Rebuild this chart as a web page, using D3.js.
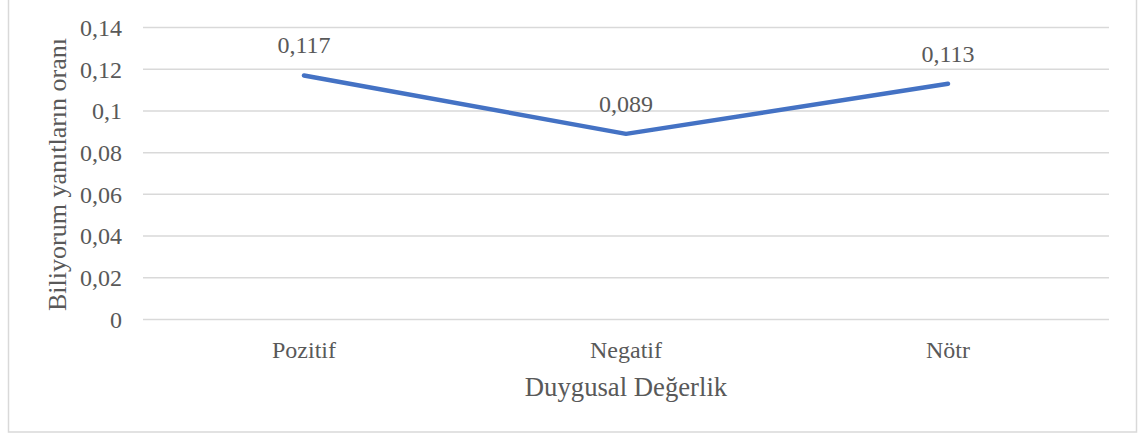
<!DOCTYPE html>
<html>
<head>
<meta charset="utf-8">
<script src="https://cdn.jsdelivr.net/npm/d3@7"></script>
<style>
  body { margin: 0; background: #fff; }
  svg text { font-family: "Liberation Serif", "Times New Roman", serif; fill: #595959; }
</style>
</head>
<body>
<div id="chart"></div>
<script>
// values
const categories = ["Pozitif", "Negatif", "Nötr"];
const values = [0.117, 0.089, 0.113];
const labels = ["0,117", "0,089", "0,113"];
const yTicks = [0, 0.02, 0.04, 0.06, 0.08, 0.1, 0.12, 0.14];
const yTickLabels = ["0", "0,02", "0,04", "0,06", "0,08", "0,1", "0,12", "0,14"];

const serif = "'Liberation Serif', 'Times New Roman', serif";
const width = 1138, height = 434;
const margin = { top: 27.5, right: 29, bottom: 114.5, left: 143 };
const innerWidth = width - margin.left - margin.right;
const innerHeight = height - margin.top - margin.bottom;

const svg = d3.select("#chart")
  .append("svg")
  .attr("width", width)
  .attr("height", height);

// chart border
svg.append("rect")
  .attr("x", 8.5)
  .attr("y", -1)
  .attr("width", 1128)
  .attr("height", 433)
  .attr("fill", "none")
  .attr("stroke", "#d9d9d9")
  .attr("stroke-width", 1.5);

const g = svg.append("g")
  .attr("transform", `translate(${margin.left},${margin.top})`);

const x = d3.scaleBand()
  .domain(categories)
  .range([0, innerWidth]);

const y = d3.scaleLinear()
  .domain([0, 0.14])
  .range([innerHeight, 0]);

// gridlines
g.selectAll("line.grid")
  .data(yTicks)
  .enter().append("line")
  .attr("class", "grid")
  .attr("x1", 0)
  .attr("x2", innerWidth)
  .attr("y1", d => y(d))
  .attr("y2", d => y(d))
  .attr("stroke", "#d9d9d9")
  .attr("stroke-width", 1.5);

// y axis labels
const yAxis = g.append("g")
  .call(d3.axisLeft(y).tickValues(yTicks).tickSize(0).tickPadding(21)
    .tickFormat((d, i) => yTickLabels[i]))
  .attr("font-family", serif)
  .attr("font-size", 24);
yAxis.select(".domain").remove();
yAxis.selectAll("text")
  .style("font-family", serif)
  .attr("fill", "#595959")
  .attr("dy", "0.33em");

// x axis labels
const xAxis = g.append("g")
  .attr("transform", `translate(0,${innerHeight})`)
  .call(d3.axisBottom(x).tickSize(0).tickPadding(21))
  .attr("font-family", serif)
  .attr("font-size", 24);
xAxis.select(".domain").remove();
xAxis.selectAll("text")
  .style("font-family", serif)
  .attr("fill", "#595959");

// axis titles
g.append("text")
  .attr("x", innerWidth / 2)
  .attr("y", innerHeight + 76)
  .attr("text-anchor", "middle")
  .attr("font-size", 26.7)
  .text("Duygusal Değerlik");

g.append("text")
  .attr("transform", "rotate(-90)")
  .attr("x", -innerHeight / 2 - 1)
  .attr("y", -77)
  .attr("text-anchor", "middle")
  .attr("font-size", 26)
  .text("Biliyorum yanıtların oranı");

// the line
const points = categories.map((c, i) => ({ c, v: values[i], label: labels[i] }));

g.append("path")
  .datum(points)
  .attr("fill", "none")
  .attr("stroke", "#4472C4")
  .attr("stroke-width", 4.5)
  .attr("stroke-linecap", "round")
  .attr("stroke-linejoin", "round")
  .attr("d", d3.line()
    .x(d => x(d.c) + x.bandwidth() / 2)
    .y(d => y(d.v)));

// data labels
g.selectAll("text.dlabel")
  .data(points)
  .enter().append("text")
  .attr("class", "dlabel")
  .attr("x", d => x(d.c) + x.bandwidth() / 2)
  .attr("y", d => y(d.v) - 22)
  .attr("text-anchor", "middle")
  .attr("font-size", 24)
  .text(d => d.label);
</script>
</body>
</html>
